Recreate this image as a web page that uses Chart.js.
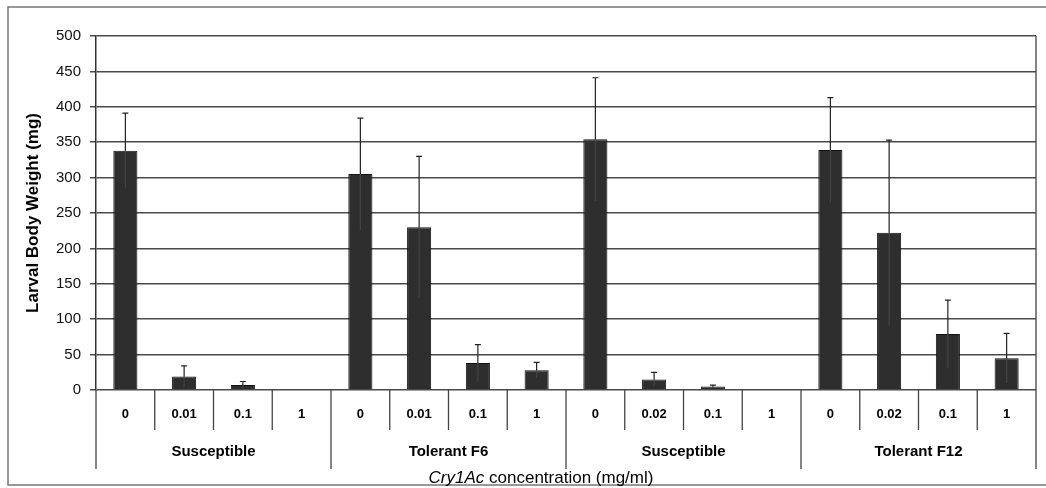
<!DOCTYPE html>
<html>
<head>
<meta charset="utf-8">
<script src="https://cdn.jsdelivr.net/npm/chart.js@4"></script>
<style>
  html, body { margin: 0; padding: 0; background: #fff; }
  #wrap { width: 1046px; height: 488px; }
</style>
</head>
<body>
<div id="wrap"><canvas id="chart"></canvas></div>
<script>
// data
const concLabels = ["0", "0.01", "0.1", "1", "0", "0.01", "0.1", "1", "0", "0.02", "0.1", "1", "0", "0.02", "0.1", "1"];
const groupLabels = ["Susceptible", "Tolerant F6", "Susceptible", "Tolerant F12"];
const weights = [338, 19, 7, 0, 305, 230, 38, 28, 354, 15, 5, 0, 339, 222, 79, 45];
const errors = [53, 15, 5, 0, 79, 100, 26, 11, 87, 10, 2, 0, 74, 131, 48, 35];
const yTicks = [0, 50, 100, 150, 200, 250, 300, 350, 400, 450, 500];

const FONT = "'Liberation Sans', Arial, sans-serif";

// error bars, category labels, group labels and the frame
const extrasPlugin = {
    id: "extras",
    beforeDraw(chart) {
        const ctx = chart.ctx;
        ctx.save();
        ctx.strokeStyle = "#777";
        ctx.lineWidth = 1.5;
        ctx.strokeRect(8, 7, 1046, 478);
        ctx.restore();
    },
    afterDatasetsDraw(chart) {
        const ctx = chart.ctx;
        const x = chart.scales.x;
        const y = chart.scales.y;
        ctx.save();
        ctx.lineWidth = 1.2;
        weights.forEach((v, i) => {
            if (!errors[i]) return;
            const px = x.getPixelForValue(i);
            const mid = y.getPixelForValue(v);
            const top = y.getPixelForValue(v + errors[i]);
            const bot = y.getPixelForValue(Math.max(0, v - errors[i]));
            // lower half barely shows inside the dark bar
            ctx.strokeStyle = "#444";
            ctx.beginPath();
            ctx.moveTo(px, bot);
            ctx.lineTo(px, mid);
            ctx.stroke();
            ctx.strokeStyle = "#222";
            ctx.beginPath();
            ctx.moveTo(px, mid);
            ctx.lineTo(px, top);
            ctx.moveTo(px - 3, top);
            ctx.lineTo(px + 3, top);
            ctx.stroke();
        });
        ctx.restore();
    },
    afterDraw(chart) {
        const ctx = chart.ctx;
        const x = chart.scales.x;
        const area = chart.chartArea;
        const step = (area.right - area.left) / concLabels.length;
        const base = area.bottom;
        ctx.save();
        ctx.strokeStyle = "#444";
        ctx.lineWidth = 1.3;
        // right edge of the plot, down through the label rows
        ctx.beginPath();
        ctx.moveTo(area.right, area.top);
        ctx.lineTo(area.right, base + 79);
        ctx.moveTo(area.left, base);
        ctx.lineTo(area.left, base + 79);
        ctx.stroke();
        // separators
        for (let i = 1; i < concLabels.length; i++) {
            const px = area.left + step * i;
            ctx.beginPath();
            ctx.moveTo(px, base);
            ctx.lineTo(px, base + (i % 4 === 0 ? 79 : 40));
            ctx.stroke();
        }
        ctx.fillStyle = "#000";
        ctx.textAlign = "center";
        ctx.textBaseline = "middle";
        ctx.font = "bold 13px " + FONT;
        concLabels.forEach((lab, i) => {
            ctx.fillText(lab, x.getPixelForValue(i), base + 24);
        });
        ctx.font = "bold 15px " + FONT;
        groupLabels.forEach((lab, g) => {
            const cx = area.left + step * (g * 4 + 2);
            ctx.fillText(lab, cx, base + 62);
        });
        // axis title with italic gene name
        const t1 = "Cry1Ac";
        const t2 = " concentration (mg/ml)";
        ctx.font = "italic 17px " + FONT;
        const w1 = ctx.measureText(t1).width;
        ctx.font = "17px " + FONT;
        const w2 = ctx.measureText(t2).width;
        const startX = 541 - (w1 + w2) / 2;
        ctx.textAlign = "left";
        ctx.font = "italic 17px " + FONT;
        ctx.fillText(t1, startX, 478);
        ctx.font = "17px " + FONT;
        ctx.fillText(t2, startX + w1, 478);
        ctx.restore();
    }
};

new Chart(document.getElementById("chart"), {
    type: "bar",
    data: {
        labels: concLabels,
        datasets: [{
            data: weights,
            backgroundColor: "#2e2e2e",
            borderColor: "#111111",
            borderWidth: 1,
            barPercentage: 0.41,
            categoryPercentage: 1.0
        }]
    },
    options: {
        responsive: true,
        maintainAspectRatio: false,
        animation: false,
        layout: { padding: { top: 36, right: 10, left: 0, bottom: 0 } },
        plugins: {
            legend: { display: false },
            tooltip: { enabled: false }
        },
        scales: {
            x: {
                grid: { display: false },
                border: { display: false },
                ticks: { display: false },
                afterFit(scale) { scale.height = 98; }
            },
            y: {
                min: 0,
                max: 500,
                afterBuildTicks(scale) {
                    scale.ticks = yTicks.map(v => ({ value: v }));
                },
                afterFit(scale) { scale.width = 96; },
                grid: {
                    color: "#4a4a4a",
                    lineWidth: 1.5,
                    tickLength: 6
                },
                border: { color: "#333", width: 1.5 },
                ticks: {
                    color: "#111",
                    padding: 9,
                    font: { family: FONT, size: 15 }
                },
                title: {
                    display: true,
                    text: "Larval Body Weight (mg)",
                    color: "#000",
                    font: { family: FONT, size: 17, weight: "bold" },
                    padding: { top: 23, bottom: 0 }
                }
            }
        }
    },
    plugins: [extrasPlugin]
});
</script>
</body>
</html>
